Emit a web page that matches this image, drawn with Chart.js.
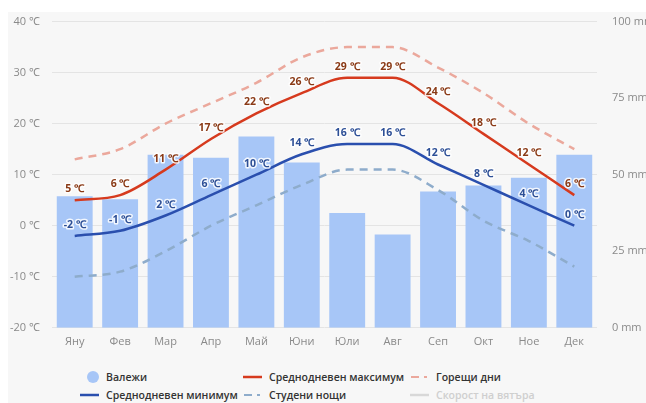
<!DOCTYPE html>
<html>
<head>
<meta charset="utf-8">
<script src="https://cdn.jsdelivr.net/npm/chart.js@4.4.1/dist/chart.umd.min.js"></script>
<style>
  html, body { margin: 0; padding: 0; background: #fff; }
  #wrap { position: relative; width: 646px; height: 403px; overflow: hidden; }
  #panel { position: absolute; left: 8px; top: 12px; right: 0; bottom: 0; background: #f7f7f7; }
  #grafico { position: absolute; left: 0; top: 0; }
  .ley { position: absolute; font: 600 10.5px "Open Sans", sans-serif; color: #333; white-space: nowrap; line-height: 14px; }
  .ley svg { position: absolute; top: 1px; }
  .ley span { position: absolute; }
</style>
</head>
<body>
<div id="wrap">
  <div id="panel"></div>
  <canvas id="grafico" width="646" height="355"></canvas>
  <div id="leyenda"></div>
</div>
<script>
// Datos
const meses = ['Яну', 'Фев', 'Мар', 'Апр', 'Май', 'Юни', 'Юли', 'Авг', 'Сеп', 'Окт', 'Ное', 'Дек'];
const valezhi = [43, 42, 56.5, 55.5, 62.5, 54, 37.5, 30.5, 44.5, 46.5, 49, 56.5];
const tempMax = [5, 6, 11, 17, 22, 26, 29, 29, 24, 18, 12, 6];
const tempMin = [-2, -1, 2, 6, 10, 14, 16, 16, 12, 8, 4, 0];
const goreshtiDni = [13, 15, 20, 24, 28, 33, 35, 35, 31, 26, 20, 15];
const studeniNoshti = [-10, -9, -5, 0, 4, 8, 11, 11, 7, 1, -3, -8];
const ticksTemp = [-20, -10, 0, 10, 20, 30, 40];
const ticksMm = [0, 25, 50, 75, 100];

// Etiquetas sobre las lineas de max/min
const etiquetasPlugin = {
    id: 'etiquetas',
    afterDatasetsDraw(chart) {
        const ctx = chart.ctx;
        chart.data.datasets.forEach((ds, i) => {
            if (!ds.etiqueta) return;
            const meta = chart.getDatasetMeta(i);
            ctx.save();
            ctx.font = 'bold 10.5px "Open Sans", sans-serif';
            ctx.textAlign = 'center';
            ctx.textBaseline = 'middle';
            ctx.lineJoin = 'round';
            meta.data.forEach((pt, j) => {
                const txt = ds.data[j] + ' ℃';
                ctx.strokeStyle = 'rgba(255,255,255,0.85)';
                ctx.lineWidth = 3;
                ctx.strokeText(txt, pt.x, pt.y - 11);
                ctx.fillStyle = ds.etiqueta;
                ctx.fillText(txt, pt.x, pt.y - 11);
            });
            ctx.restore();
        });
    }
};

const fuenteEje = { family: '"Open Sans", sans-serif', size: 11 };

new Chart(document.getElementById('grafico').getContext('2d'), {
    type: 'bar',
    data: {
        labels: meses,
        datasets: [
            {
                type: 'line',
                label: 'Среднодневен максимум',
                data: tempMax,
                yAxisID: 'y',
                borderColor: '#d63a1e',
                borderWidth: 2.5,
                pointRadius: 0,
                cubicInterpolationMode: 'monotone',
                etiqueta: '#8a3a16',
                order: 1
            },
            {
                type: 'line',
                label: 'Среднодневен минимум',
                data: tempMin,
                yAxisID: 'y',
                borderColor: '#2a4fae',
                borderWidth: 2.5,
                pointRadius: 0,
                cubicInterpolationMode: 'monotone',
                etiqueta: '#2d4f96',
                order: 2
            },
            {
                type: 'line',
                label: 'Горещи дни',
                data: goreshtiDni,
                yAxisID: 'y',
                borderColor: '#eba89c',
                borderWidth: 2.5,
                borderDash: [8, 6],
                pointRadius: 0,
                cubicInterpolationMode: 'monotone',
                order: 3
            },
            {
                type: 'line',
                label: 'Студени нощи',
                data: studeniNoshti,
                yAxisID: 'y',
                borderColor: '#8eaccb',
                borderWidth: 2.5,
                borderDash: [8, 6],
                pointRadius: 0,
                cubicInterpolationMode: 'monotone',
                order: 4
            },
            {
                label: 'Валежи',
                data: valezhi,
                yAxisID: 'y2',
                backgroundColor: '#a7c6f7',
                categoryPercentage: 1,
                barPercentage: 0.79,
                order: 10
            }
        ]
    },
    options: {
        responsive: false,
        animation: false,
        layout: { padding: { top: 14, left: 0, right: 0, bottom: 0 } },
        plugins: {
            legend: { display: false },
            tooltip: { enabled: false }
        },
        scales: {
            x: {
                grid: { display: false, drawTicks: false },
                border: { display: false },
                ticks: { color: '#8a8a8a', font: fuenteEje, padding: 7 }
            },
            y: {
                position: 'left',
                min: ticksTemp[0],
                max: ticksTemp[ticksTemp.length - 1],
                afterBuildTicks: (s) => { s.ticks = ticksTemp.map(v => ({ value: v })); },
                afterFit: (s) => { s.width = 52; },
                grid: { color: '#e4e4e4', drawTicks: false },
                border: { display: false },
                ticks: { color: '#8a8a8a', font: fuenteEje, padding: 12, callback: v => v + ' ℃' }
            },
            y2: {
                position: 'right',
                min: ticksMm[0],
                max: ticksMm[ticksMm.length - 1],
                afterBuildTicks: (s) => { s.ticks = ticksMm.map(v => ({ value: v })); },
                afterFit: (s) => { s.width = 49; },
                grid: { display: false, drawTicks: false },
                border: { display: false },
                ticks: { color: '#8a8a8a', font: fuenteEje, padding: 15, callback: v => v + ' mm' }
            }
        }
    },
    plugins: [etiquetasPlugin]
});

// Leyenda en HTML (3 columnas)
const itemsLeyenda = [
    { txt: 'Валежи', x: 86, y: 370, tipo: 'circulo', color: '#a7c6f7' },
    { txt: 'Среднодневен максимум', x: 243, y: 370, tipo: 'linea', color: '#d63a1e' },
    { txt: 'Горещи дни', x: 410, y: 370, tipo: 'guion', color: '#eba89c' },
    { txt: 'Среднодневен минимум', x: 80, y: 388, tipo: 'linea', color: '#2a4fae' },
    { txt: 'Студени нощи', x: 243, y: 388, tipo: 'guion', color: '#8eaccb' },
    { txt: 'Скорост на вятъра', x: 410, y: 388, tipo: 'linea', color: '#d8d8d8', gris: true }
];
const leyenda = document.getElementById('leyenda');
itemsLeyenda.forEach(it => {
    const d = document.createElement('div');
    d.className = 'ley';
    d.style.left = it.x + 'px';
    d.style.top = it.y + 'px';
    let icono = '';
    let dx = 26;
    if (it.tipo === 'circulo') {
        icono = '<svg width="14" height="14"><circle cx="7" cy="6" r="6" fill="' + it.color + '"/></svg>';
        dx = 20;
    } else if (it.tipo === 'linea') {
        icono = '<svg width="20" height="12"><line x1="0" y1="6" x2="19" y2="6" stroke="' + it.color + '" stroke-width="2.5"/></svg>';
    } else {
        icono = '<svg width="20" height="12"><line x1="1" y1="6" x2="19" y2="6" stroke="' + it.color + '" stroke-width="2" stroke-dasharray="8 5 3 5"/></svg>';
    }
    d.innerHTML = icono + '<span style="left:' + dx + 'px;' + (it.gris ? 'color:#cfcfcf;' : '') + '">' + it.txt + '</span>';
    leyenda.appendChild(d);
});
</script>
</body>
</html>
